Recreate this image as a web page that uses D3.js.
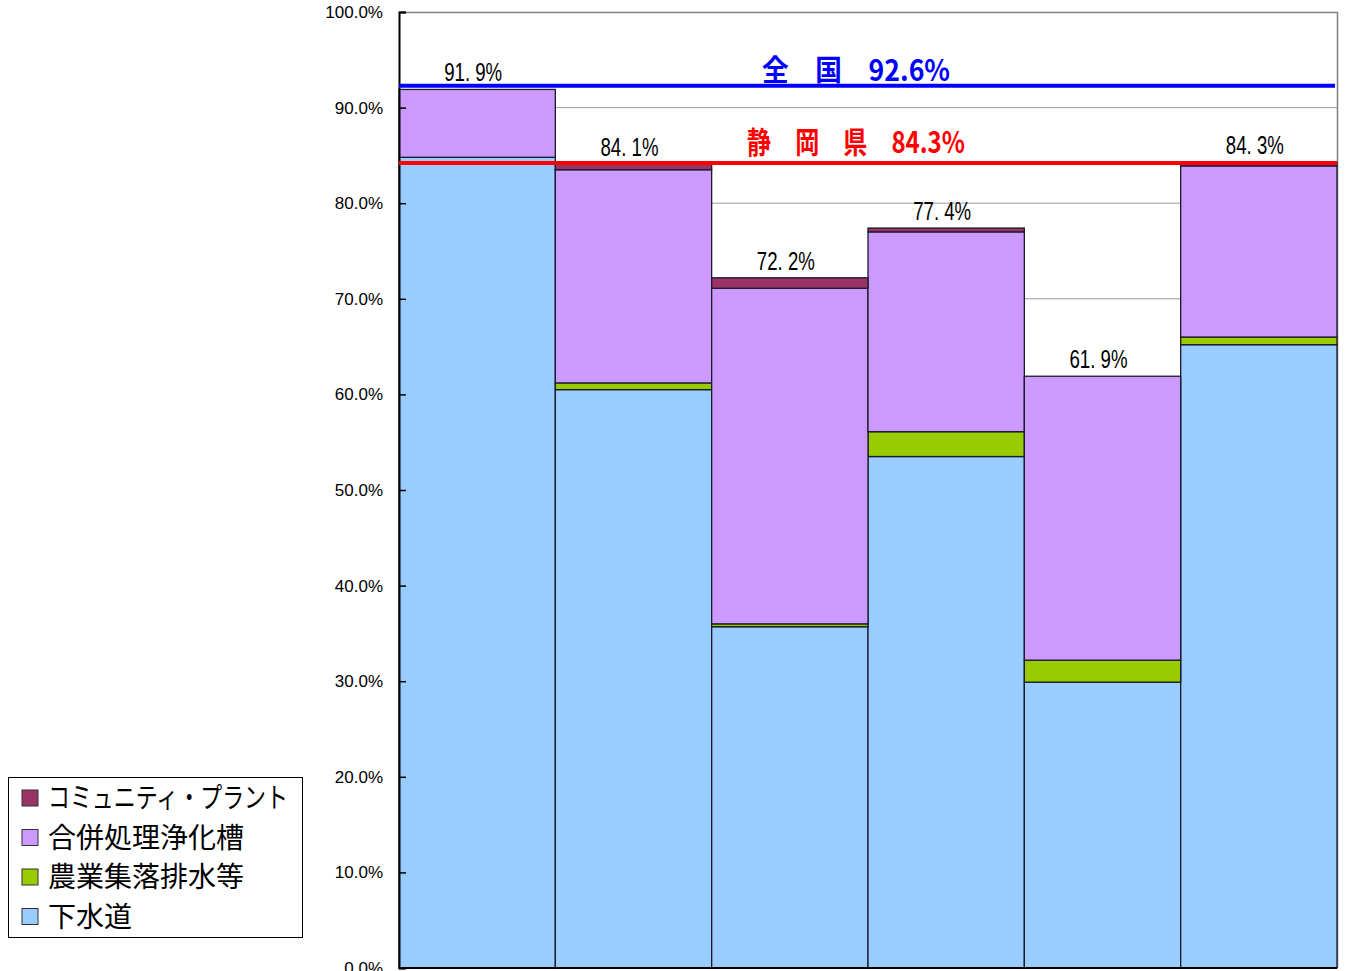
<!DOCTYPE html>
<html lang="ja">
<head>
    <meta charset="UTF-8">
    <title>汚水処理人口普及率</title>
    <style>
        body {
            margin: 0;
            background: #fff;
            font-family: "Liberation Sans", Arial, sans-serif;
        }
    </style>
    <script src="https://d3js.org/d3.v7.min.js"></script>
</head>
<body>

<script>

    // data (percent)
    let areas = ["A", "B", "C", "D", "E", "F"]
    let sewer = [84.8, 60.5, 35.7, 53.5, 29.9, 65.2]
    let rural = [0.0, 0.7, 0.3, 2.6, 2.3, 0.8]
    let septic = [7.1, 22.3, 35.1, 20.9, 29.7, 17.9]
    let community = [0.0, 0.6, 1.1, 0.4, 0.0, 0.4]
    let totals = ["91. 9%", "84. 1%", "72. 2%", "77. 4%", "61. 9%", "84. 3%"]
    let totalValues = [91.9, 84.1, 72.2, 77.4, 61.9, 84.3]

    let seriesNames = ["下水道", "農業集落排水等", "合併処理浄化槽", "コミュニティ・プラント"]
    let seriesColors = ["#99ccff", "#99cc00", "#cc99ff", "#993366"]
    let yTicks = [0, 10, 20, 30, 40, 50, 60, 70, 80, 90, 100]

    let nationalValue = 92.6
    let nationalLabel = "全　国　92.6%"
    let prefValue = 84.3
    let prefLabel = "静　岡　県　84.3%"

    let width = 1346
    let height = 971
    let plotLeft = 399, plotRight = 1337, plotTop = 12, plotBottom = 968

    let svg = d3.select("body").append("svg")
        .attr("width", width)
        .attr("height", height)

    let x = d3.scaleBand().domain(areas).range([plotLeft, plotRight]).padding(0)
    let y = d3.scaleLinear().domain([0, 100]).range([plotBottom, plotTop])

    // table for the stack
    let table = areas.map(function (a, i) {
        return {area: a, s0: sewer[i], s1: rural[i], s2: septic[i], s3: community[i]}
    })
    let stack = d3.stack().keys(["s0", "s1", "s2", "s3"])(table)

    // gridlines
    svg.append("g")
        .selectAll("line")
        .data(yTicks.filter(function (d) { return d > 0 && d < 100 }))
        .enter()
        .append("line")
        .attr("x1", plotLeft).attr("x2", plotRight)
        .attr("y1", function (d) { return y(d) })
        .attr("y2", function (d) { return y(d) })
        .attr("stroke", "#9a9a9a")
        .attr("stroke-width", 1)

    // plot border (top + right)
    svg.append("path")
        .attr("d", "M" + plotLeft + "," + (plotTop + 0.5) + "H" + (plotRight + 0.5) + "V" + plotBottom)
        .attr("fill", "none")
        .attr("stroke", "#808080")
        .attr("stroke-width", 1.5)

    // stacked bars
    svg.append("g")
        .selectAll("g")
        .data(stack)
        .enter()
        .append("g")
        .attr("fill", function (d, i) { return seriesColors[i] })
        .selectAll("rect")
        .data(function (d) { return d.filter(function (p) { return p[1] - p[0] > 0 }) })
        .enter()
        .append("rect")
        .attr("x", function (d) { return x(d.data.area) })
        .attr("width", x.bandwidth())
        .attr("y", function (d) { return y(d[1]) })
        .attr("height", function (d) { return y(d[0]) - y(d[1]) })
        .attr("stroke", "#1a1a2a")
        .attr("stroke-width", 1.3)

    // y axis
    let yAxis = svg.append("g")
        .attr("transform", "translate(" + plotLeft + ",0)")
        .call(d3.axisLeft(y).tickValues(yTicks).tickSize(-7).tickPadding(16)
            .tickFormat(function (d) { return d.toFixed(1) + "%" }))
    yAxis.select(".domain").attr("stroke", "#000").attr("stroke-width", 2)
    yAxis.selectAll(".tick line").attr("stroke", "#000").attr("stroke-width", 1.5)
    yAxis.selectAll("text")
        .attr("font-family", "Liberation Sans, Arial, sans-serif")
        .attr("font-size", 17)
        .attr("fill", "#000")

    // bottom axis line
    svg.append("line")
        .attr("x1", plotLeft).attr("x2", plotRight)
        .attr("y1", plotBottom).attr("y2", plotBottom)
        .attr("stroke", "#000").attr("stroke-width", 2)

    // reference lines
    svg.append("line")
        .attr("x1", plotLeft).attr("x2", plotRight - 2)
        .attr("y1", y(nationalValue) + 3).attr("y2", y(nationalValue) + 3)
        .attr("stroke", "#0000ff").attr("stroke-width", 4)
    svg.append("line")
        .attr("x1", plotLeft).attr("x2", plotRight)
        .attr("y1", y(prefValue) + 1).attr("y2", y(prefValue) + 1)
        .attr("stroke", "#ff0000").attr("stroke-width", 4)

    svg.append("text")
        .attr("x", 762).attr("y", 81)
        .attr("textLength", 188).attr("lengthAdjust", "spacingAndGlyphs")
        .attr("font-family", "Noto Sans CJK JP, sans-serif")
        .attr("font-weight", "bold")
        .attr("font-size", 29)
        .attr("fill", "#0000ff")
        .text(nationalLabel)

    svg.append("text")
        .attr("x", 747).attr("y", 153)
        .attr("textLength", 218).attr("lengthAdjust", "spacingAndGlyphs")
        .attr("font-family", "Noto Sans CJK JP, sans-serif")
        .attr("font-weight", "bold")
        .attr("font-size", 30)
        .attr("fill", "#ff0000")
        .text(prefLabel)

    // total labels
    svg.append("g")
        .selectAll("text")
        .data(totals)
        .enter()
        .append("text")
        .attr("x", function (d, i) { return x(areas[i]) + x.bandwidth() / 2 - 33 })
        .attr("y", function (d, i) { return y(totalValues[i]) - 8 })
        .attr("textLength", 58).attr("lengthAdjust", "spacingAndGlyphs")
        .attr("font-family", "Liberation Sans, Arial, sans-serif")
        .attr("font-size", 26)
        .attr("fill", "#000")
        .text(function (d) { return d })

    // legend
    let legend = svg.append("g")
    legend.append("rect")
        .attr("x", 8.5).attr("y", 777.5)
        .attr("width", 294).attr("height", 160)
        .attr("fill", "#fff").attr("stroke", "#000").attr("stroke-width", 1)

    let legendOrder = [3, 2, 1, 0]
    let item = legend.selectAll("g.item")
        .data(legendOrder)
        .enter()
        .append("g")
        .attr("class", "item")
        .attr("transform", function (d, i) { return "translate(0," + (798 + i * 39.5) + ")" })
    item.append("rect")
        .attr("x", 22).attr("y", -8)
        .attr("width", 16).attr("height", 16)
        .attr("fill", function (d) { return seriesColors[d] })
        .attr("stroke", "#333").attr("stroke-width", 1)
    item.append("text")
        .attr("x", 48).attr("y", 10)
        .attr("font-family", "Noto Sans CJK JP, sans-serif")
        .attr("font-size", 28)
        .attr("fill", "#000")
        .each(function (d) {
            // the long katakana name is set narrower in the reference
            if (d === 3) d3.select(this).attr("textLength", 240).attr("lengthAdjust", "spacingAndGlyphs")
        })
        .text(function (d) { return seriesNames[d] })

</script>

</body>
</html>
